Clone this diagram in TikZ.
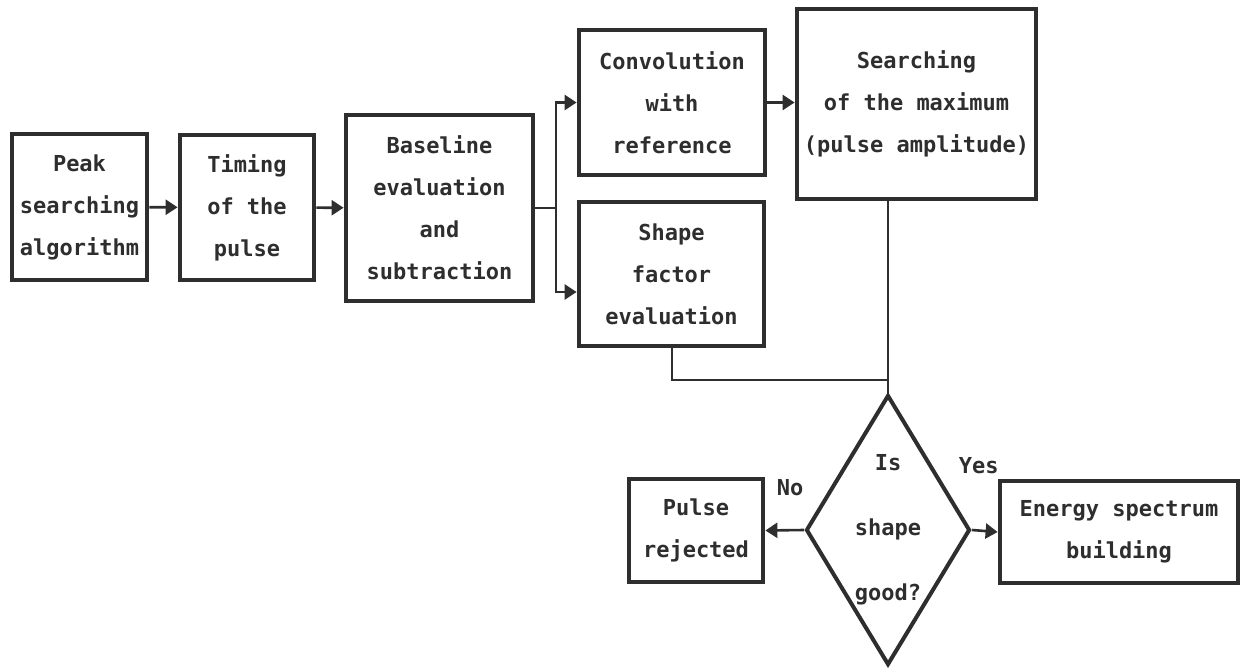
\documentclass[tikz,border=0pt]{standalone}
\usepackage{fontspec}
\setmonofont{DejaVu Sans Mono}
\usepackage{xcolor}
\usepackage{tikz}
\usetikzlibrary{arrows.meta,shapes.geometric}

\definecolor{ink}{HTML}{2E2E2E}

\begin{document}
\begin{tikzpicture}[x=0.5pt, y=-0.5pt, color=ink,
  font=\ttfamily\bfseries\fontsize{11}{21}\selectfont,
  block/.style={draw, line width=2.4pt, align=center, inner sep=0pt},
  wire/.style={line width=1pt},
  flow/.style={line width=1.3pt, -{Triangle[length=6pt,width=7.5pt]}},
  answer/.style={inner sep=0pt}]
  \useasboundingbox (0,0) rectangle (1243,669);

  \node[block, minimum width=67.5pt, minimum height=73pt]   (peak)   at (79.5,207)
  {Peak\\searching\\algorithm};
  \node[block, minimum width=67pt, minimum height=72.5pt]   (timing) at (247,207.5)
  {Timing\\of the\\pulse};
  \node[block, minimum width=93.5pt, minimum height=93pt]   (base)   at (439.5,208)
  {Baseline\\evaluation\\and\\subtraction};
  \node[block, minimum width=93pt, minimum height=72.5pt]   (conv)   at (672,102.5)
  {Convolution\\with\\reference};
  \node[block, minimum width=92.5pt, minimum height=72pt]   (shape)  at (671.5,274)
  {Shape\\factor\\evaluation};
  \node[block, minimum width=119.5pt, minimum height=95pt]  (search) at (916.5,104)
  {Searching\\of the maximum\\(pulse amplitude)};
  \node[draw, diamond, line width=2pt, inner sep=0pt,
        minimum width=82pt, minimum height=135pt,
        label={[align=center, font=\ttfamily\bfseries\fontsize{11}{32.5}\selectfont]center:Is\\shape\\good?}]
                                                            (choice) at (888,530) {};
  \node[block, minimum width=67pt, minimum height=51.5pt]   (reject) at (696,530.5)
  {Pulse\\rejected};
  \node[block, minimum width=119pt, minimum height=51pt]    (energy) at (1119,532)
  {Energy spectrum\\building};

  \coordinate (split) at (556,208);
  \coordinate (join)  at (choice.north |- 0,380);

  \draw[flow] (peak)   -- (timing);
  \draw[flow] (timing) -- (base);
  \draw[wire] (base.east) -- (split);
  \draw[flow] (split) |- (conv.west);
  \draw[flow] (split) |- ([yshift=-9pt]shape.west);
  \draw[flow] (conv) -- (conv -| search.west);
  \draw[wire] (choice.north |- search.south) -- (choice.north);
  \draw[wire] (shape.south) |- (join);
  \draw[flow] (choice.west) -- node[answer, above=16.75pt, xshift=2.75pt] {No}
  (reject.east);
  \draw[flow] (choice.east) -- node[answer, above=28pt, xshift=-3pt] {Yes}
  (energy.west);
\end{tikzpicture}
\end{document}
